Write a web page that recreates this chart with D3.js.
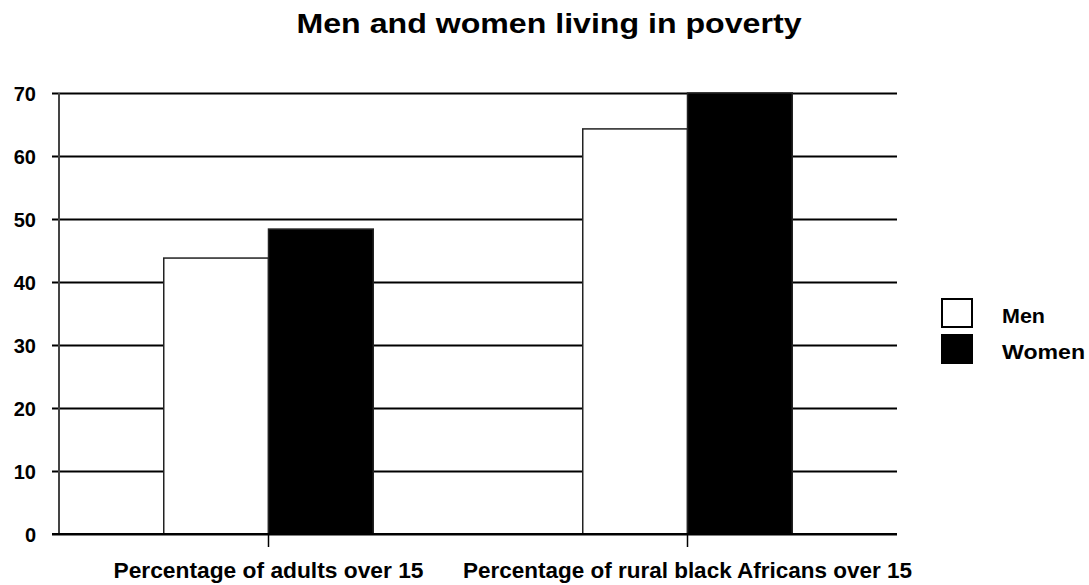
<!DOCTYPE html>
<html>
<head>
<meta charset="utf-8">
<script src="https://cdn.jsdelivr.net/npm/d3@7"></script>
<style>
  html, body { margin: 0; padding: 0; background: #fff; }
  svg { display: block; }
  text { font-family: "Liberation Sans", Arial, sans-serif; font-weight: bold; fill: #000; }
</style>
</head>
<body>
<svg id="chart" width="1089" height="585"></svg>
<script>
// Poverty rates (%) by group and sex
const categories = ["Percentage of adults over 15", "Percentage of rural black Africans over 15"];
const seriesNames = ["Men", "Women"];
const menValues = [43.8, 64.3];
const womenValues = [48.4, 70];
const yTicks = [0, 10, 20, 30, 40, 50, 60, 70];
const seriesColors = ["#ffffff", "#000000"];

const svg = d3.select("#chart");
const plot = { left: 59, right: 897, top: 93, bottom: 534 };

const x = d3.scaleBand().domain(categories).range([plot.left, plot.right]).paddingInner(0).paddingOuter(0);
const xs = d3.scaleBand().domain(seriesNames).range([0, x.bandwidth()]).paddingInner(0).paddingOuter(1);
const y = d3.scaleLinear().domain([0, 70]).range([plot.bottom, plot.top]);

// Wide heavy lettering: stretch each label horizontally to a set width
function stretch(sel, width) {
  sel.attr("textLength", width).attr("lengthAdjust", "spacingAndGlyphs");
}

// Title
svg.append("text")
  .attr("x", 549).attr("y", 33)
  .attr("text-anchor", "middle")
  .style("font-size", "27px")
  .text("Men and women living in poverty")
  .call(stretch, 505);

// Horizontal grid lines with tick marks
const yAxis = d3.axisLeft(y).tickValues(yTicks).tickSize(-(plot.right - plot.left)).tickSizeOuter(0);
const gy = svg.append("g").attr("transform", `translate(${plot.left},0)`).call(yAxis);
gy.select(".domain").remove();
gy.selectAll(".tick line").attr("x1", -7).attr("stroke", "#000").attr("stroke-width", 2);
gy.selectAll(".tick text").style("font-size", "20px").attr("x", -23).attr("dy", "0.36em");

// Left axis line
svg.append("line")
  .attr("x1", plot.left).attr("x2", plot.left)
  .attr("y1", y(70)).attr("y2", y(0))
  .attr("stroke", "#444").attr("stroke-width", 2);

// Bars
const rows = categories.map((c, i) => ({ cat: c, vals: [menValues[i], womenValues[i]] }));
const groups = svg.append("g").selectAll("g").data(rows).join("g")
  .attr("transform", d => `translate(${x(d.cat)},0)`);
groups.selectAll("rect").data(d => d.vals.map((v, j) => ({ name: seriesNames[j], v, j })))
  .join("rect")
  .attr("x", d => xs(d.name))
  .attr("width", xs.bandwidth())
  .attr("y", d => y(d.v))
  .attr("height", d => y(0) - y(d.v))
  .attr("fill", d => seriesColors[d.j])
  .attr("stroke", "#222")
  .attr("stroke-width", 1.5);

// Baseline
svg.append("line")
  .attr("x1", plot.left - 7).attr("x2", plot.right)
  .attr("y1", y(0)).attr("y2", y(0))
  .attr("stroke", "#000").attr("stroke-width", 2);

// Category axis
const labelWidths = [310, 449];
const xAxis = d3.axisBottom(x).tickSize(13).tickSizeOuter(0);
const gx = svg.append("g").attr("transform", `translate(0,${plot.bottom})`).call(xAxis);
gx.select(".domain").remove();
gx.selectAll(".tick line").attr("stroke", "#000").attr("stroke-width", 1.5);
gx.selectAll(".tick text")
  .style("font-size", "22px")
  .attr("y", 44).attr("dy", null)
  .each(function(d, i) { d3.select(this).call(stretch, labelWidths[i]); });

// Legend
const legendWidths = [43, 83];
const legend = svg.append("g").attr("transform", "translate(942,299)");
const items = legend.selectAll("g").data(seriesNames).join("g")
  .attr("transform", (d, i) => `translate(0,${i * 36})`);
items.append("rect")
  .attr("width", 30).attr("height", 28)
  .attr("fill", (d, i) => seriesColors[i])
  .attr("stroke", "#000").attr("stroke-width", 2);
items.append("text")
  .attr("x", 60).attr("y", 24)
  .style("font-size", "21px")
  .text(d => d)
  .each(function(d, i) { d3.select(this).call(stretch, legendWidths[i]); });
</script>
</body>
</html>
